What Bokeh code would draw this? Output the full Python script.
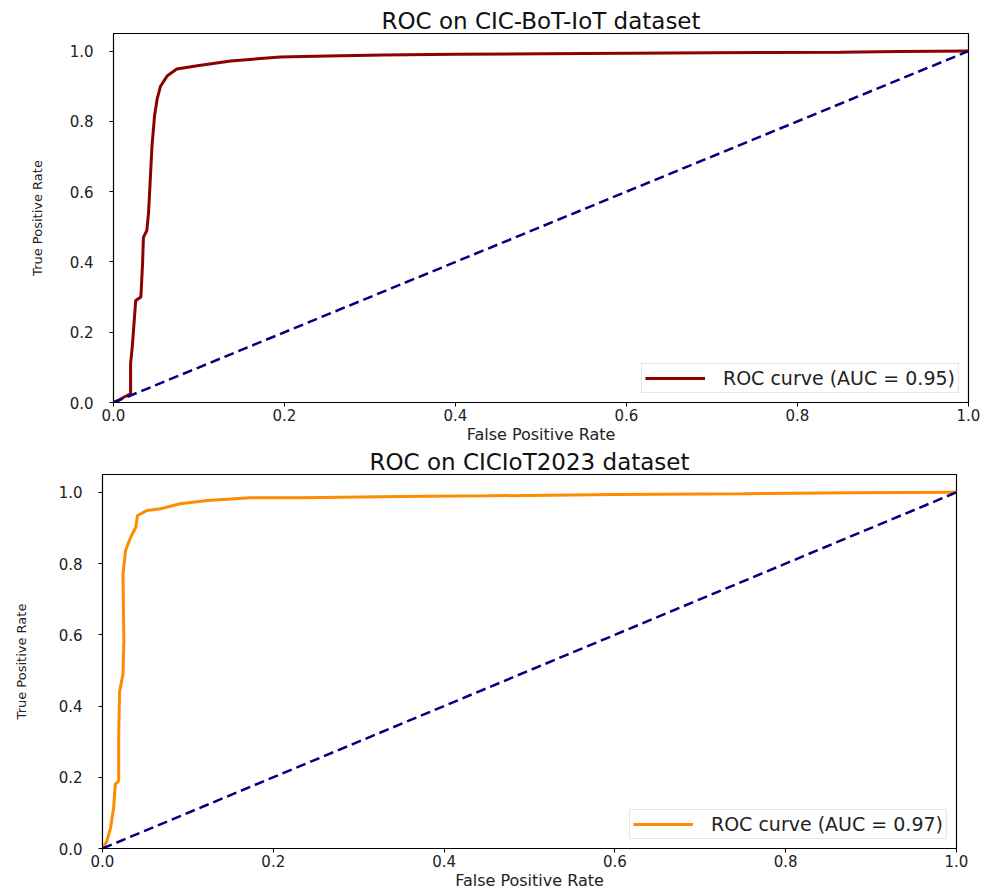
from bokeh.plotting import figure
from bokeh.layouts import column, row
from bokeh.models import Range1d, FixedTicker, PrintfTickFormatter, Legend, LegendItem
from bokeh.embed import file_html
from bokeh.resources import INLINE

# ---- data ----
titles = ["ROC on CIC-BoT-IoT dataset", "ROC on CICIoT2023 dataset"]
legend_labels = ["ROC curve (AUC = 0.95)", "ROC curve (AUC = 0.97)"]

fpr_bot_iot = [0.0, 0.005, 0.012, 0.02, 0.02, 0.022, 0.024, 0.026, 0.032, 0.034, 0.035,
               0.039, 0.041, 0.043, 0.045, 0.048, 0.051, 0.055, 0.063, 0.074, 0.098,
               0.137, 0.195, 0.25, 0.316, 0.4, 0.55, 0.7, 0.85, 0.92, 1.0]
tpr_bot_iot = [0.0, 0.005, 0.015, 0.025, 0.11, 0.16, 0.225, 0.29, 0.30, 0.396, 0.47,
               0.49, 0.54, 0.634, 0.73, 0.815, 0.863, 0.90, 0.93, 0.949, 0.958,
               0.972, 0.983, 0.986, 0.989, 0.991, 0.993, 0.995, 0.997, 0.999, 1.0]

fpr_ciciot = [0.0, 0.005, 0.0094, 0.013, 0.015, 0.019, 0.019, 0.020, 0.024, 0.025,
              0.024, 0.027, 0.033, 0.039, 0.041, 0.052, 0.068, 0.091, 0.123, 0.173,
              0.232, 0.35, 0.45, 0.6, 0.75, 0.88, 1.0]
tpr_ciciot = [0.0, 0.02, 0.057, 0.114, 0.18, 0.19, 0.32, 0.44, 0.49, 0.583,
              0.77, 0.837, 0.874, 0.902, 0.935, 0.949, 0.954, 0.968, 0.977, 0.985,
              0.985, 0.988, 0.990, 0.994, 0.996, 0.999, 1.0]

diag_x = [0.0, 1.0]
diag_y = [0.0, 1.0]

ticks = [0.0, 0.2, 0.4, 0.6, 0.8, 1.0]

FONT = "DejaVu Sans"


def make_plot(title, fx, ty, color, label, border, ylab_standoff):
    left, right, top, bottom, fw, fh = border
    p = figure(frame_width=fw, frame_height=fh, output_backend="svg",
               toolbar_location=None, x_range=Range1d(0, 1), y_range=Range1d(0, 1.05),
               min_border_left=left, min_border_right=right,
               min_border_top=top, min_border_bottom=bottom)
    p.title.text = title
    p.title.align = "center"
    p.title.text_font = FONT
    p.title.text_font_size = "23px"
    p.title.text_font_style = "normal"
    p.title.text_color = "#111111"
    p.title.standoff = 0
    p.grid.visible = False
    p.outline_line_color = "black"
    p.outline_line_width = 1.2
    for ax in (p.xaxis[0], p.yaxis[0]):
        ax.ticker = FixedTicker(ticks=ticks)
        ax.formatter = PrintfTickFormatter(format="%.1f")
        ax.minor_tick_line_color = None
        ax.major_tick_in = 0
        ax.major_tick_out = 4
        ax.major_label_text_font = FONT
        ax.major_label_text_font_size = "15px"
        ax.major_label_text_color = "#222222"
        ax.axis_label_text_font = FONT
        ax.axis_label_text_font_style = "normal"
        ax.axis_label_text_color = "#222222"
        ax.axis_line_color = "black"
    p.xaxis.major_label_standoff = 2
    p.xaxis.axis_label_standoff = 1
    p.yaxis.major_label_standoff = 16
    p.yaxis.axis_label_standoff = ylab_standoff
    p.xaxis.axis_label = "False Positive Rate"
    p.xaxis.axis_label_text_font_size = "16px"
    p.yaxis.axis_label = "True Positive Rate"
    p.yaxis.axis_label_text_font_size = "13px"

    r = p.line(fx, ty, line_color=color, line_width=3)
    p.line(diag_x, diag_y, line_color="navy", line_width=2.5, line_dash="10 5")

    legend = Legend(items=[LegendItem(label=label, renderers=[r])],
                    location="bottom_right", margin=9, padding=3,
                    label_text_font=FONT, label_text_font_size="19px",
                    label_text_color="#222222", glyph_width=60,
                    border_line_color="#cccccc", border_line_width=1,
                    background_fill_alpha=0.85, spacing=0, label_standoff=18)
    p.add_layout(legend, "center")
    return p


p1 = make_plot(titles[0], fpr_bot_iot, tpr_bot_iot, "darkred", legend_labels[0],
               (113, 19, 33, 43, 855, 369), 22)
p2 = make_plot(titles[1], fpr_ciciot, tpr_ciciot, "darkorange", legend_labels[1],
               (102, 31, 25, 43, 854, 374), 27)

layout = column(row(p1), row(p2), spacing=0)
open("out.html", "w").write(file_html(layout, INLINE))
